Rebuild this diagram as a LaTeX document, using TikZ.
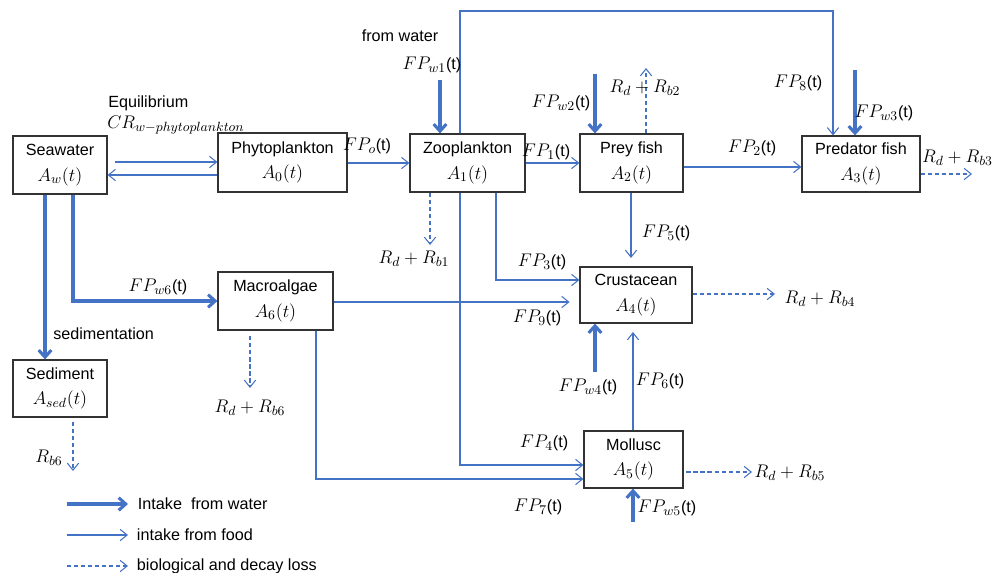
\RequirePackage{fix-cm}
\documentclass[tikz,border=0pt]{standalone}
\usepackage{fontspec}
\setmainfont{Liberation Sans}
\usetikzlibrary{arrows.meta}
\DeclareMathSizes{11.5}{13}{9.5}{7}
\definecolor{flowblue}{RGB}{68,114,196}
\tikzset{
  box/.style={draw=black!80, line width=0.8pt, align=center, inner sep=0pt, font=\fontsize{11.5}{18}\selectfont},
  water/.style={draw=flowblue, line width=2.2pt, -{Straight Barb[length=5pt,width=9pt]}},
  food/.style={draw=flowblue, line width=0.75pt, -{Straight Barb[length=5pt,width=8pt]}},
  loss/.style={draw=flowblue, line width=0.75pt, dash pattern=on 3pt off 2pt, -{Straight Barb[length=5pt,width=8pt]}},
  lbl/.style={font=\fontsize{11.5}{14}\selectfont, inner sep=0pt}
}
\begin{document}
\begin{tikzpicture}[x=0.025cm, y=-0.025cm]
\useasboundingbox (0,0) rectangle (995,573);

\node[box, minimum width=2.35cm, minimum height=1.45cm] (sea) at (60,165) {Seawater\\$A_w(t)$};
\node[box, minimum width=3.225cm, minimum height=1.475cm] (phyto) at (282.5,162.5) {Phytoplankton\\$A_0(t)$};
\node[box, minimum width=2.875cm, minimum height=1.45cm] (zoo) at (467.5,163) {Zooplankton\\$A_1(t)$};
\node[box, minimum width=2.575cm, minimum height=1.45cm] (prey) at (631.5,163) {Prey fish\\$A_2(t)$};
\node[box, minimum width=2.95cm, minimum height=1.4cm] (pred) at (861,164) {Predator fish\\$A_3(t)$};
\node[box, minimum width=2.8cm, minimum height=1.4cm] (crus) at (636,295) {Crustacean\\$A_4(t)$};
\node[box, minimum width=2.475cm, minimum height=1.425cm] (moll) at (633.5,459.5) {Mollusc\\$A_5(t)$};
\node[box, minimum width=2.875cm, minimum height=1.45cm] (macro) at (275.5,301) {Macroalgae\\$A_6(t)$};
\node[box, minimum width=2.35cm, minimum height=1.425cm] (sed) at (60,388.5) {Sediment\\$A_{sed}(t)$};

\coordinate (eqa) at (115,162);
\coordinate (w1) at (440,80);
\coordinate (topl) at (460,11);
\coordinate (topr) at (833,11);
\coordinate (w2) at (595,74);
\coordinate (b2) at (646,68);
\coordinate (w3) at (855,70);
\coordinate (b3) at (972,174);
\coordinate (b1) at (430,245);
\coordinate (b6) at (250,388);
\coordinate (sb6) at (73,471);
\coordinate (b4) at (775,294);
\coordinate (w4) at (595,372);
\coordinate (b5) at (752,472);
\coordinate (w5) at (633,522);

\draw[food] (eqa) -- (eqa -| phyto.west);
\draw[food] (phyto.west |- 0,175) -- (sea.east |- 0,175);
\draw[food] (phyto.east |- 0,163) -- (zoo.west |- 0,163);
\draw[food] (zoo.east) -- (zoo.east -| prey.west);
\draw[food] (prey.east |- 0,167) -- (pred.west |- 0,167);
\draw[loss] (pred.east |- b3) -- (b3);
\draw[water] (w1) -- (w1 |- zoo.north);
\draw[food] (zoo.north -| topl) -- (topl) -- (topr) -- (topr |- pred.north);
\draw[water] (w2) -- (w2 |- prey.north);
\draw[loss] (prey.north -| b2) -- (b2);
\draw[water] (w3) -- (w3 |- pred.north);
\draw[loss] (zoo.south -| b1) -- (b1);
\draw[food] (zoo.south -| 496,0) |- (crus.west |- 0,280);
\draw[food] (zoo.south -| topl) |- (moll.west |- 0,465);
\draw[food, shorten >=6pt] (prey.south -| 631,0) -- (crus.north -| 631,0);
\draw[food, shorten >=7pt] (macro.east |- 0,302) -- (crus.west |- 0,302);
\draw[water] (sea.south -| 45,0) -- (sed.north -| 45,0);
\draw[water] (sea.south -| 73,0) |- (macro.west);
\draw[loss, shorten <=4pt] (macro.south -| b6) -- (b6);
\draw[loss, shorten <=3pt] (sed.south -| sb6) -- (sb6);
\draw[food] (macro.south -| 316,0) |- (moll.west |- 0,479);
\draw[loss] (crus.east |- b4) -- (b4);
\draw[water] (w4) -- (w4 |- crus.south);
\draw[food, shorten >=6pt] (moll.north -| w5) -- (crus.south -| w5);
\draw[loss, shorten <=2pt] (moll.east |- b5) -- (b5);
\draw[water] (w5) -- (w5 |- moll.south);

\node[lbl, anchor=west] (eqtext) at (108,103) {Equilibrium};
\node[lbl, anchor=west] (crtext) at (107,125) {$CR_{w-phytoplankton}$};
\node[lbl] (fromw) at (400,36) {from water};
\node[lbl] (fpw1) at (432,65) {$FP_{w1}$(t)};
\node[lbl] (fpo) at (367,146) {$FP_{o}$(t)};
\node[lbl] (fp1) at (546,152) {$FP_{1}$(t)};
\node[lbl] (fpw2) at (561,103) {$FP_{w2}$(t)};
\node[lbl] (rb2) at (645,88) {$R_d+R_{b2}$};
\node[lbl] (fp8) at (798,83) {$FP_{8}$(t)};
\node[lbl] (fpw3) at (884,113) {$FP_{w3}$(t)};
\node[lbl] (fp2) at (752,148) {$FP_{2}$(t)};
\node[lbl, anchor=east] (rb3) at (993,158) {$R_d+R_{b3}$};
\node[lbl] (fp5) at (666,233) {$FP_{5}$(t)};
\node[lbl] (fp3) at (542,262) {$FP_{3}$(t)};
\node[lbl] (rb1) at (414,259) {$R_d+R_{b1}$};
\node[lbl] (fpw6) at (158,287) {$FP_{w6}$(t)};
\node[lbl, anchor=west] (sedtext) at (53,334) {sedimentation};
\node[lbl] (rb6) at (250,408) {$R_d+R_{b6}$};
\node[lbl] (srb6) at (49,458) {$R_{b6}$};
\node[lbl] (fp9) at (537,318) {$FP_{9}$(t)};
\node[lbl] (rb4) at (820,299) {$R_d+R_{b4}$};
\node[lbl] (fpw4) at (588,387) {$FP_{w4}$(t)};
\node[lbl] (fp6) at (660,381) {$FP_{6}$(t)};
\node[lbl] (fp4) at (544,443) {$FP_{4}$(t)};
\node[lbl] (rb5) at (790,473) {$R_d+R_{b5}$};
\node[lbl] (fp7) at (538,507) {$FP_{7}$(t)};
\node[lbl] (fpw5) at (667,508) {$FP_{w5}$(t)};

\coordinate (lga) at (67,504);
\coordinate (lgb) at (67,535);
\coordinate (lgc) at (67,566);
\draw[water] (lga) -- ++(61,0) node[lbl, anchor=west, xshift=6pt] (lgwater) {Intake\ \ from water};
\draw[food] (lgb) -- ++(61,0) node[lbl, anchor=west, xshift=6pt] (lgfood) {intake from food};
\draw[loss] (lgc) -- ++(61,0) node[lbl, anchor=west, xshift=6pt] (lgloss) {biological and decay loss};
\end{tikzpicture}
\end{document}
